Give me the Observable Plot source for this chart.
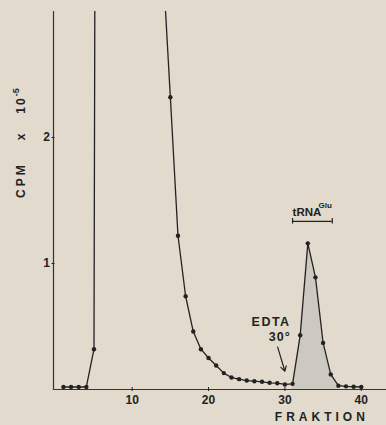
<!DOCTYPE html>
<html><head><meta charset="utf-8">
<script src="https://cdn.jsdelivr.net/npm/d3@7"></script>
<script src="https://cdn.jsdelivr.net/npm/@observablehq/plot@0.6"></script>
<style>
html,body{margin:0;padding:0;background:#e2dacc;}
svg text{font-family:"Liberation Sans",Arial,sans-serif;}
</style></head><body><div id="chart"></div>
<script>
// Fraction numbers and CPM x 10^-5 (fractions 6–14 run off the top)
const fraction = [1,2,3,4,5,6,7,8,9,10,11,12,13,14,15,16,17,18,19,20,21,22,23,24,25,26,27,28,29,30,31,32,33,34,35,36,37,38,39,40];
const cpm = [0.02,0.02,0.02,0.02,0.32,25,40,45,40,32,22,12,6,3.4,2.32,1.22,0.74,0.46,0.32,0.25,0.19,0.13,0.095,0.082,0.071,0.066,0.061,0.053,0.05,0.04,0.045,0.43,1.16,0.89,0.37,0.12,0.03,0.025,0.022,0.02];
const xTicks = [10,20,30,40];
const yTicks = [1,2];
const peakRange = [31,37];          // shaded tRNA-Glu peak
const bracketX = [31,36.2];         // tRNA bracket span
const bracketY = [1.335];
const labelTRNA = [{x:31, y:1.405, text:"tRNA"}];
const labelGlu = [{x:34.4, y:1.46, text:"Glu"}];
const labelEDTA = [{x:30.75, y:0.534, text:"EDTA"},{x:30.75, y:0.413, text:"30°"}];
const arrowEDTA = [{x1:29.05, y1:0.336, x2:30.0, y2:0.145}];
const xLabel = "FRAKTION";
const yLabel = ["CPM","x","10","-5"];

const rows = fraction.map((f,i)=>({f, v:cpm[i]}));
const ink = "#222";

const chart = Plot.plot({
  width:386, height:425,
  marginLeft:53, marginRight:0, marginTop:11, marginBottom:36,
  x:{domain:[-0.3,43.3]},
  y:{domain:[0,3]},
  style:{background:"#e2dacc", color:ink, fontFamily:"Liberation Sans, Arial, sans-serif"},
  marks:[
    Plot.areaY(rows.filter(d=>d.f>=peakRange[0]&&d.f<=peakRange[1]), {x:"f", y:"v", fill:"#cdc8c0"}),
    Plot.frame({anchor:"left", stroke:"#333", strokeWidth:1.2}),
    Plot.frame({anchor:"bottom", stroke:"#333", strokeWidth:1.2}),
    Plot.axisY({ticks:yTicks, tickSize:3, dx:1.5, tickPadding:2, fontSize:12, fontWeight:"bold", label:null, tickFormat:d=>String(d)}),
    Plot.axisX({ticks:xTicks, tickSize:4, dy:-2, tickPadding:4, fontSize:12, fontWeight:"bold", label:null}),
    Plot.line(rows, {x:"f", y:"v", stroke:ink, strokeWidth:1.3, clip:true}),
    Plot.dot(rows, {x:"f", y:"v", r:2.2, fill:ink, clip:true}),
    Plot.ruleY(bracketY, {x1:bracketX[0], x2:bracketX[1], stroke:ink, strokeWidth:1.2}),
    Plot.ruleX(bracketX, {y1:bracketY[0]-0.022, y2:bracketY[0]+0.022, stroke:ink, strokeWidth:1.2}),
    Plot.text(labelTRNA, {x:"x", y:"y", text:"text", textAnchor:"start", fontSize:11.5, fontWeight:"bold", fill:ink}),
    Plot.text(labelGlu, {x:"x", y:"y", text:"text", textAnchor:"start", fontSize:8, fontWeight:"bold", fill:ink}),
    Plot.text(labelEDTA, {x:"x", y:"y", text:"text", textAnchor:"end", fontSize:12.5, fontWeight:"bold", fill:ink}),
    Plot.arrow(arrowEDTA, {x1:"x1", y1:"y1", x2:"x2", y2:"y2", stroke:ink, strokeWidth:1.2, headLength:7})
  ]
});
document.getElementById("chart").appendChild(chart);

const svg = d3.select(chart);
svg.selectAll("text").filter(function(){return this.textContent==="EDTA";}).style("letter-spacing","1.5px");
svg.selectAll("text").filter(function(){return this.textContent==="30°";}).style("letter-spacing","1px");

const xs = chart.scale("x"), ys = chart.scale("y");
// x axis title
svg.append("text")
  .attr("x", xs.apply(34.9)).attr("y", 421)
  .attr("text-anchor","middle")
  .style("font-size","12px").style("font-weight","bold").style("letter-spacing","4px")
  .attr("fill", ink).text(xLabel);

// y axis title, rotated
const yl = svg.append("text")
  .attr("transform", `translate(25,${ys.apply(0.0)-191}) rotate(-90)`)
  .attr("text-anchor","start")
  .style("font-size","12px").style("font-weight","bold")
  .attr("fill", ink);
yl.append("tspan").style("letter-spacing","3px").text(yLabel[0]);
yl.append("tspan").attr("dx", 22).text(yLabel[1]);
yl.append("tspan").attr("dx", 20).style("letter-spacing","2px").text(yLabel[2]);
yl.append("tspan").attr("dy", -6).style("font-size","9px").text(yLabel[3]);
</script></body></html>
